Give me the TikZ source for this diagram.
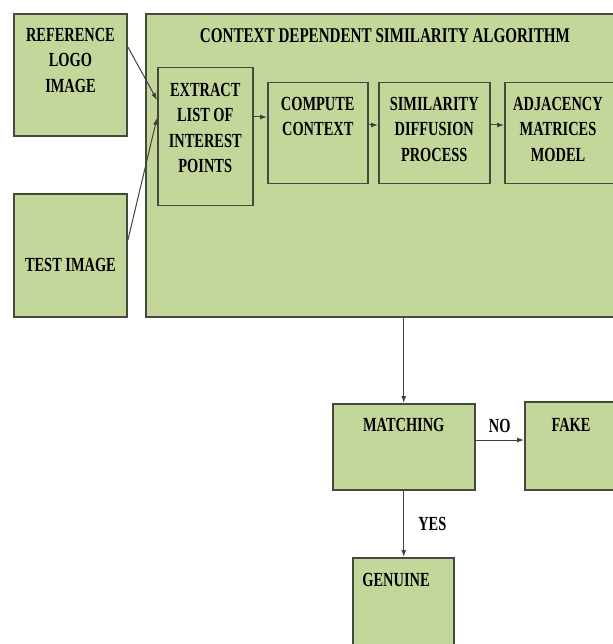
\documentclass[tikz,border=0pt]{standalone}
\usepackage{fontspec}
\setmainfont{Liberation Serif}[FakeStretch=0.72]
\usetikzlibrary{arrows.meta,positioning}
\definecolor{boxgreen}{RGB}{196,215,155}
\definecolor{edgegrey}{RGB}{70,74,62}

\begin{document}
\begin{tikzpicture}
[x=1pt,y=-1pt,>={Latex[length=7pt,width=5pt]},
% Styles
outer box/.style={draw=edgegrey,line width=1.9pt,fill=boxgreen,anchor=north west,inner sep=0pt},
step box/.style={draw=edgegrey,line width=1.5pt,fill=boxgreen,anchor=north west,inner sep=0pt},
box text/.style={font=\bfseries\fontsize{20}{25.5}\selectfont,align=center,inner sep=0pt,anchor=north,text=black},
flow line/.style={draw=black!75,line width=1pt,->}]
\useasboundingbox (0,0) rectangle (612,644);
% Input images
\node[outer box,minimum width=113pt,minimum height=122pt] (ref) at (13,13) {};
\node[box text] (reftext) at ([yshift=-15pt]ref.north) {REFERENCE\\LOGO\\IMAGE};
\node[outer box,minimum width=113pt,minimum height=123pt] (test) at (13,193) {};
\node[box text] (testtext) at ([yshift=-65pt]test.north) {TEST IMAGE};
% The algorithm
\node[outer box,minimum width=470pt,minimum height=303pt] (algo) at (145,13) {};
\node[box text,font=\bfseries\fontsize{21}{25.5}\selectfont] (algotext) at (385,28) {CONTEXT DEPENDENT SIMILARITY ALGORITHM};
\node[step box,minimum width=95pt,minimum height=138pt] (extract) at (157,67) {};
\node[box text] (extracttext) at ([yshift=-16pt]extract.north) {EXTRACT\\LIST OF\\INTEREST\\POINTS};
\node[step box,minimum width=100pt,minimum height=101pt] (context) at (267,82) {};
\node[box text] (contexttext) at ([yshift=-15pt]context.north) {COMPUTE\\CONTEXT};
\node[step box,minimum width=111pt,minimum height=101pt] (diffusion) at (378,82) {};
\node[box text] (diffusiontext) at ([yshift=-15pt]diffusion.north) {SIMILARITY\\DIFFUSION\\PROCESS};
\node[step box,minimum width=115pt,minimum height=101pt] (adjacency) at (504,82) {};
\node[box text] (adjacencytext) at (558,97) {ADJACENCY\\MATRICES\\MODEL};
% Decision
\node[step box,minimum width=142pt,minimum height=86pt] (match) at (332,403) {};
\node[box text] (matchtext) at ([yshift=-15pt]match.north) {MATCHING};
\node[step box,minimum width=95pt,minimum height=88pt] (fake) at (524,401) {};
\node[box text] (faketext) at (571,418) {FAKE};
\node[step box,minimum width=101pt,minimum height=95pt] (genuine) at (352,557) {};
\node[box text] (genuinetext) at (396,573) {GENUINE};
% Connectors
\draw[flow line] (ref.east |- 0,47) -- (extract.west |- 0,100);
\draw[flow line] (test.east |- 0,240) -- (extract.west |- 0,118);
\draw[flow line] (extract.east |- 0,117) -- (context.west |- 0,117);
\draw[flow line] (context.east |- 0,125) -- (diffusion.west |- 0,125);
\draw[flow line] (diffusion.east |- 0,125) -- (adjacency.west |- 0,125);
\draw[flow line] (algo.south -| match.north) -- (match.north);
\draw[flow line] (match.east |- 0,440) -- node[box text,above=7pt] (no) {NO} (fake.west |- 0,440);
\draw[flow line] (match.south) -- node[box text,anchor=west,right=14pt] (yes) {YES} (genuine.north -| match.south);
\end{tikzpicture}
\end{document}
